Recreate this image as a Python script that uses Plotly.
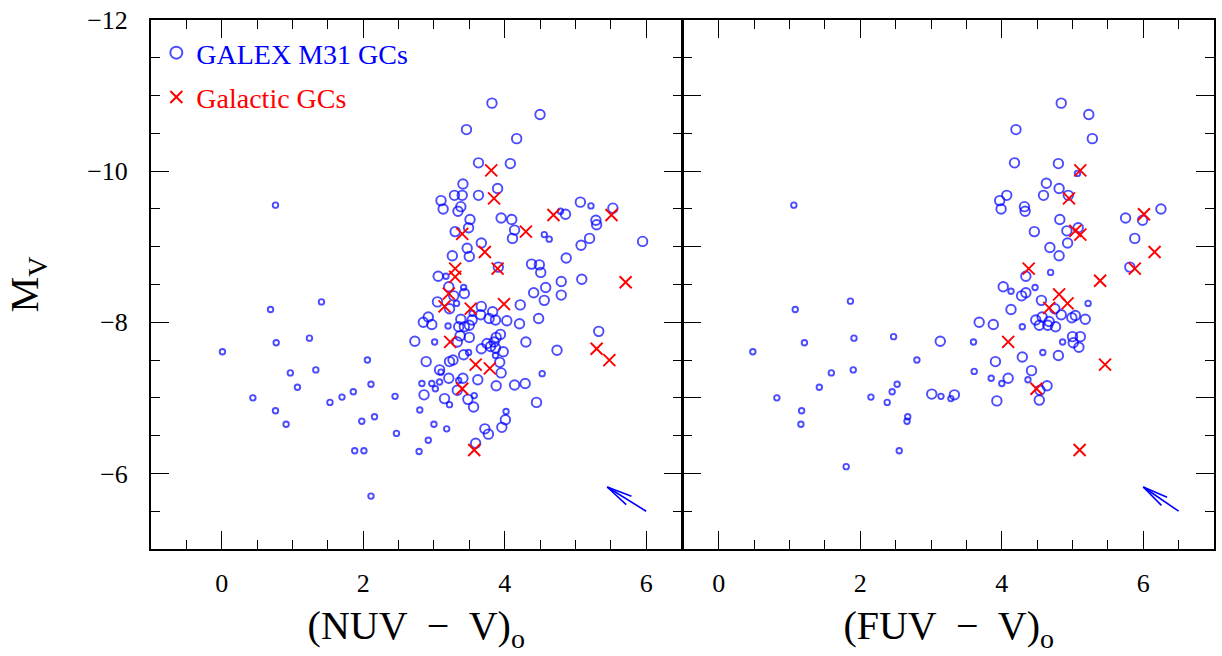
import math
import plotly.graph_objects as go

# ---------------- data ----------------
# Left panel: (NUV - V)o vs Mv for GALEX M31 GCs; flag 1 = large symbol, 0 = small
nuv_gc_x = [0.76, 1.41, 0.69, 0.77, 1.24, 0.01, 2.06, 0.97, 1.33, 1.07, 2.11, 0.44, 1.53, 1.70, 1.86,
            2.45, 0.76, 0.91, 1.98, 2.16, 2.47, 1.88, 2.01, 2.11, 2.79, 2.80, 2.92, 2.83,
            2.73, 2.85, 2.92, 2.89, 2.86, 2.97,
            3.82, 4.50, 3.46, 4.17, 3.63, 4.08, 3.41, 3.90, 3.29, 3.40, 3.63, 3.10, 3.13, 3.38, 3.34,
            3.51, 3.49, 3.30, 3.95, 4.10, 4.14, 4.11, 3.67, 3.47, 3.50, 3.26, 3.91, 4.38, 4.49, 4.51,
            4.87, 5.07, 5.22, 5.53, 4.79, 4.86, 5.29, 5.30, 4.56, 4.63, 5.20, 5.08, 5.95, 3.06, 3.17,
            5.09, 4.80,
            3.21, 3.42, 3.43, 3.28, 3.05, 3.32, 3.22, 4.41, 4.58, 4.56, 4.80, 4.22, 3.67, 3.83, 3.54,
            3.66, 3.38, 3.54, 3.50, 3.43, 3.78, 3.87, 4.03, 4.21, 4.48, 3.20, 3.35, 3.01, 3.33, 3.50,
            3.37, 3.94, 3.88, 4.30, 4.74, 5.33, 3.75, 3.85, 3.80, 3.87, 3.67, 3.98, 3.42, 3.49, 3.87,
            3.93, 3.22, 3.27, 3.08, 3.10, 3.95, 3.21, 3.41, 3.62, 3.35, 2.97, 3.08, 3.02, 3.88, 4.14,
            4.29, 4.53, 3.33, 3.57, 3.15, 3.22, 3.48, 3.56, 4.45, 4.02, 4.01, 3.00, 3.18, 3.72, 3.77,
            3.96, 3.59]
nuv_gc_mv = [-9.55, -8.27, -8.17, -7.73, -7.79, -7.61, -7.50, -7.33, -7.37, -7.14, -7.18, -7.00, -6.94, -7.01, -7.08,
             -7.02, -6.83, -6.65, -6.69, -6.75, -6.53, -6.30, -6.30, -5.70, -6.29, -6.84, -6.44, -7.19,
             -7.75, -8.00, -8.07, -7.48, -7.04, -7.97,
             -10.90, -10.75, -10.55, -10.43, -10.11, -10.10, -9.83, -9.77, -9.68, -9.68, -9.68, -9.61, -9.50, -9.53, -9.47,
             -9.36, -9.25, -9.20, -9.38, -9.36, -9.22, -9.11, -9.05, -8.98, -8.87, -8.88, -8.73, -8.77, -8.76, -8.66,
             -8.85, -9.59, -9.54, -9.51, -9.47, -9.43, -9.35, -9.29, -9.16, -9.10, -9.11, -9.02, -9.07, -8.61, -8.61,
             -8.57, -8.54,
             -8.47, -8.46, -8.38, -8.35, -8.27, -8.25, -8.18, -8.39, -8.46, -8.29, -8.36, -8.23, -8.21, -8.14, -8.12,
             -8.10, -8.04, -8.03, -7.96, -7.94, -8.05, -8.03, -8.02, -7.98, -8.05, -7.95, -7.94, -7.74, -7.74, -7.80,
             -7.82, -7.84, -7.80, -7.74, -7.63, -7.88, -7.72, -7.74, -7.68, -7.66, -7.65, -7.61, -7.57, -7.60, -7.56,
             -7.47, -7.48, -7.50, -7.37, -7.34, -7.33, -7.26, -7.26, -7.24, -7.23, -7.19, -7.21, -7.12, -7.16, -7.17,
             -7.19, -7.32, -7.10, -7.03, -6.99, -6.91, -6.98, -6.88, -6.94, -6.82, -6.71, -6.65, -6.59, -6.59, -6.52,
             -6.61, -6.40]
nuv_gc_large = [0, 0, 0, 0, 0, 0, 0, 0, 0, 0, 0, 0, 0, 0, 0,
                0, 0, 0, 0, 0, 0, 0, 0, 0, 0, 0, 0, 0,
                1, 1, 1, 1, 1, 1,
                1, 1, 1, 1, 1, 1, 1, 1, 1, 1, 1, 1, 1, 1, 1,
                1, 1, 1, 1, 1, 1, 1, 1, 1, 1, 1, 1, 1, 1, 1,
                1, 1, 0, 1, 0, 1, 1, 1, 0, 0, 1, 1, 1, 1, 0,
                1, 1,
                1, 0, 1, 1, 1, 0, 1, 1, 1, 1, 1, 1, 1, 1, 0,
                1, 1, 1, 1, 1, 1, 1, 1, 1, 1, 0, 1, 0, 1, 1,
                1, 1, 1, 1, 1, 1, 1, 1, 1, 1, 1, 1, 1, 0, 0,
                1, 1, 1, 1, 0, 1, 1, 1, 1, 0, 0, 0, 0, 1, 1,
                1, 0, 1, 0, 1, 0, 1, 1, 1, 0, 1, 0, 0, 1, 1,
                1, 1]

# Left panel: Galactic GCs
nuv_mw_x = [3.81, 3.85, 4.69, 5.51, 4.30, 3.40, 3.72, 3.90, 3.30, 3.30, 5.71, 3.21, 3.15, 3.52, 3.99,
            3.23, 3.59, 3.79, 3.40, 3.57, 5.30, 5.48]
nuv_mw_mv = [-10.01, -9.64, -9.42, -9.42, -9.20, -9.17, -8.93, -8.71, -8.71, -8.60, -8.53, -8.38, -8.21, -8.18, -8.24,
             -7.74, -7.44, -7.39, -7.12, -6.31, -7.65, -7.50]

# Right panel: (FUV - V)o vs Mv for GALEX M31 GCs
fuv_gc_x = [1.06, 1.86, 1.08, 1.21, 1.91, 2.47, 3.13, 0.48, 2.80, 1.59, 1.90, 1.42, 2.52, 2.45, 0.82,
            2.15, 2.38, 3.01, 3.14, 3.28, 3.33, 1.17, 1.16, 2.67, 2.66, 2.55, 1.80,
            4.84, 5.23, 4.20, 5.28, 4.18, 4.80, 5.07, 4.63, 4.81, 4.59, 4.94, 4.07, 3.97, 3.99, 4.32,
            4.33, 4.82, 5.08, 4.92, 4.46, 4.93, 4.68, 4.81, 5.75, 5.99, 6.25, 5.88, 5.81, 4.69, 4.34,
            4.02, 4.13, 4.47, 4.34, 4.28, 4.56, 5.22,
            4.13, 4.75, 4.84, 4.99, 5.04, 5.18, 3.68, 3.88, 4.29, 4.48, 4.57, 4.53, 4.65, 4.67, 4.76,
            5.00, 5.11, 5.01, 5.09, 4.86, 3.60, 4.58, 4.29, 4.80, 3.91, 4.42, 3.61, 3.85, 4.09, 4.00,
            4.37, 4.64, 4.54, 3.93, 4.53]
fuv_gc_mv = [-9.55, -8.28, -8.17, -7.73, -7.79, -7.81, -7.75, -7.61, -7.50, -7.33, -7.37, -7.14, -7.18, -7.08, -7.00,
             -7.01, -6.94, -7.05, -7.02, -6.99, -7.04, -6.83, -6.65, -6.75, -6.69, -6.30, -6.09,
             -10.90, -10.75, -10.55, -10.43, -10.11, -10.10, -9.97, -9.84, -9.77, -9.68, -9.68, -9.68, -9.61, -9.50, -9.53,
             -9.47, -9.36, -9.25, -9.21, -9.20, -9.05, -8.99, -8.88, -9.38, -9.35, -9.50, -9.11, -8.73, -8.66, -8.61,
             -8.47, -8.41, -8.46, -8.39, -8.35, -8.29, -8.25,
             -8.17, -8.18, -8.10, -8.06, -8.09, -8.04, -8.00, -7.97, -7.94, -8.03, -8.07, -7.96, -7.96, -8.01, -7.94,
             -7.81, -7.81, -7.73, -7.67, -7.74, -7.74, -7.60, -7.54, -7.56, -7.48, -7.36, -7.35, -7.26, -7.26, -7.19,
             -7.24, -7.16, -7.10, -6.96, -6.97]
fuv_gc_large = [0, 0, 0, 0, 0, 0, 1, 0, 0, 0, 0, 0, 0, 0, 0,
                0, 0, 1, 0, 0, 1, 0, 0, 0, 0, 0, 0,
                1, 1, 1, 1, 1, 1, 0, 1, 1, 1, 1, 1, 1, 1, 1,
                1, 1, 1, 1, 1, 1, 1, 1, 1, 1, 1, 1, 1, 0, 1,
                1, 0, 0, 1, 1, 1, 0,
                1, 1, 1, 1, 1, 1, 1, 1, 0, 1, 1, 1, 1, 1, 1,
                1, 1, 1, 1, 0, 0, 0, 1, 1, 1, 1, 0, 0, 1, 0,
                0, 1, 1, 1, 1]

# Right panel: Galactic GCs
fuv_mw_x = [5.11, 4.95, 6.01, 5.04, 5.11, 6.16, 4.38, 5.88, 5.39, 4.81, 4.93, 4.67, 4.09, 5.46, 4.49, 5.10]
fuv_mw_mv = [-10.01, -9.64, -9.43, -9.21, -9.16, -8.93, -8.71, -8.71, -8.55, -8.37, -8.25, -8.19, -7.74, -7.44, -7.12, -6.31]

# Reddening vectors (tail -> head) for each panel
vec_nuv_tail = (6.0, -5.50)
vec_nuv_head = (5.45, -5.82)
vec_fuv_tail = (6.5, -5.50)
vec_fuv_head = (6.0, -5.82)

x_tick_vals = [0, 2, 4, 6]
y_tick_vals = [-12, -10, -8, -6]

# ---------------- styling / layout geometry ----------------
BLUE = "#0000FF"
RED = "#FF0000"
FONT = "Liberation Serif"
SMALL, LARGE = 5.5, 9.5
MARKER_LW = 1.9
W, H = 1222, 656
ML, MR, MT, MB = 151, 6, 15, 107
PLOT_W = W - ML - MR
PLOT_H = H - MT - MB
GAP = 1.0 / PLOT_W           # lets the two touching frame lines overlap into one
X1_RANGE = [-1, 6.5]
X2_RANGE = [-0.5, 7]
Y_RANGE = [-5, -12]
X1_DOM = [0, 0.5 - GAP]
X2_DOM = [0.5 + GAP, 1]


def sizes(flags):
    return [LARGE if f else SMALL for f in flags]


def arrow_xy(tail, head, xrange, xdom, barb_px=26.0, half_angle_deg=11.0):
    """Shaft + two open barbs, built in screen space and mapped back to data units."""
    ppx = PLOT_W * (xdom[1] - xdom[0]) / (xrange[1] - xrange[0])
    ppy = PLOT_H / abs(Y_RANGE[1] - Y_RANGE[0])      # y grows downward on screen (reversed axis)
    dx = (tail[0] - head[0]) * ppx
    dy = (tail[1] - head[1]) * ppy
    n = math.hypot(dx, dy)
    ux, uy = dx / n, dy / n
    xs = [tail[0], head[0], None]
    ys = [tail[1], head[1], None]
    for s in (1, -1):
        a = math.radians(half_angle_deg) * s
        bx = (ux * math.cos(a) - uy * math.sin(a)) * barb_px
        by = (ux * math.sin(a) + uy * math.cos(a)) * barb_px
        xs += [head[0], head[0] + bx / ppx, None]
        ys += [head[1], head[1] + by / ppy, None]
    return xs, ys


fig = go.Figure()

fig.add_trace(go.Scatter(
    x=nuv_gc_x, y=nuv_gc_mv, mode="markers", xaxis="x", yaxis="y",
    name='<span style="color:#0000FF">GALEX M31 GCs</span>', legendgroup="a",
    marker=dict(symbol="circle-open", color=BLUE, size=sizes(nuv_gc_large), line=dict(width=MARKER_LW, color=BLUE)),
))
fig.add_trace(go.Scatter(
    x=nuv_mw_x, y=nuv_mw_mv, mode="markers", xaxis="x", yaxis="y",
    name='<span style="color:#FF0000">Galactic GCs</span>', legendgroup="b",
    marker=dict(symbol="x-thin-open", color=RED, size=12, line=dict(width=MARKER_LW, color=RED)),
))
fig.add_trace(go.Scatter(
    x=fuv_gc_x, y=fuv_gc_mv, mode="markers", xaxis="x2", yaxis="y2", showlegend=False,
    marker=dict(symbol="circle-open", color=BLUE, size=sizes(fuv_gc_large), line=dict(width=MARKER_LW, color=BLUE)),
))
fig.add_trace(go.Scatter(
    x=fuv_mw_x, y=fuv_mw_mv, mode="markers", xaxis="x2", yaxis="y2", showlegend=False,
    marker=dict(symbol="x-thin-open", color=RED, size=12, line=dict(width=MARKER_LW, color=RED)),
))

for xa, ya, tail, head, xr, xd in (("x", "y", vec_nuv_tail, vec_nuv_head, X1_RANGE, X1_DOM),
                                   ("x2", "y2", vec_fuv_tail, vec_fuv_head, X2_RANGE, X2_DOM)):
    ax_x, ax_y = arrow_xy(tail, head, xr, xd)
    fig.add_trace(go.Scatter(x=ax_x, y=ax_y, mode="lines", xaxis=xa, yaxis=ya, showlegend=False,
                             line=dict(color=BLUE, width=1.6), hoverinfo="skip"))

common_axis = dict(
    showline=True, linecolor="black", linewidth=2, mirror="allticks",
    ticks="inside", ticklen=18, tickwidth=1.3, tickcolor="black",
    showgrid=False, zeroline=False,
    tickfont=dict(family=FONT, size=26, color="black"),
    minor=dict(dtick=0.5, ticks="inside", ticklen=9, tickwidth=1.3, tickcolor="black", showgrid=False),
)

fig.update_layout(
    width=W, height=H,
    margin=dict(l=ML, r=MR, t=MT, b=MB),
    paper_bgcolor="white", plot_bgcolor="white",
    showlegend=True,
    legend=dict(x=0.005, y=0.985, xanchor="left", yanchor="top",
                font=dict(family=FONT, size=28), bgcolor="rgba(0,0,0,0)",
                traceorder="grouped", tracegroupgap=5, itemwidth=30, itemsizing="constant"),
    xaxis=dict(domain=X1_DOM, range=X1_RANGE, anchor="y", tickmode="array", tickvals=x_tick_vals,
               ticklabelstandoff=10,
               title=dict(text="(NUV  −  V)<sub>o</sub>", font=dict(family=FONT, size=40, color="black"), standoff=14),
               **common_axis),
    xaxis2=dict(domain=X2_DOM, range=X2_RANGE, anchor="y2", tickmode="array", tickvals=x_tick_vals,
                ticklabelstandoff=10,
                title=dict(text="(FUV  −  V)<sub>o</sub>", font=dict(family=FONT, size=40, color="black"), standoff=14),
                **common_axis),
    yaxis=dict(range=Y_RANGE, anchor="x", tickmode="array", tickvals=y_tick_vals,
               ticklabelstandoff=16,
               title=dict(text="M<sub>V</sub>", font=dict(family=FONT, size=40, color="black"), standoff=36),
               **common_axis),
    yaxis2=dict(range=Y_RANGE, anchor="x2", matches="y", showticklabels=False,
                **common_axis),
)

fig.write_html("out.html")
